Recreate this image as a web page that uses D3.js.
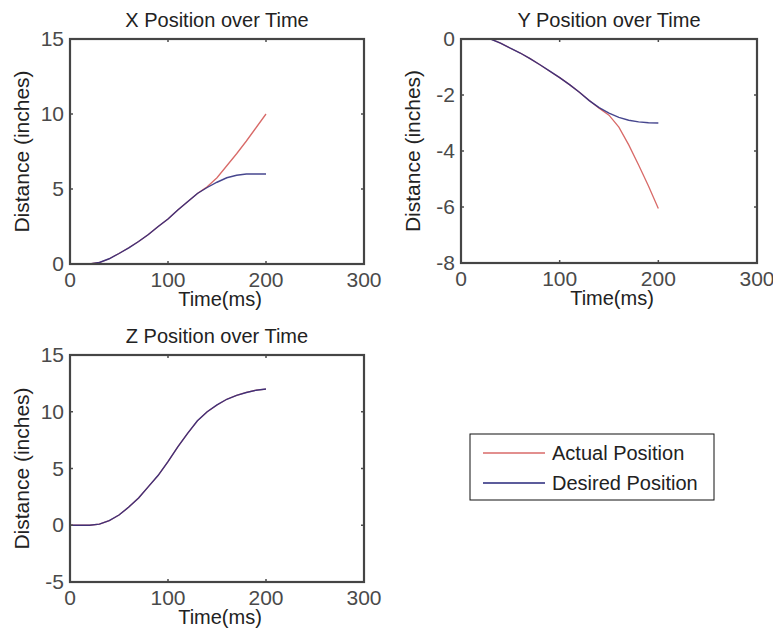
<!DOCTYPE html>
<html lang="en">
<head>
    <meta charset="UTF-8">
    <title>Position over Time</title>
    <style>
        body {
            margin: 0;
            background: #fff;
        }
        svg text {
            font-family: Arial, "Liberation Sans", sans-serif;
            fill: #222;
        }
        .tick-label {
            font-size: 21px;
            fill: #4a4a4a;
        }
        .frame {
            fill: none;
            stroke: #454545;
            stroke-width: 2.2px;
        }
        .tickmark {
            stroke: #4d4d4d;
            stroke-width: 1.5px;
        }
    </style>
</head>
<body>
    <div id="chart"></div>

    <script src="https://d3js.org/d3.v7.min.js"></script>
    <script>
        // time samples (ms)
        const timeXZ = [0, 10, 20, 30, 40, 50, 60, 70, 80, 90, 100, 110, 120, 130, 140, 150, 160, 170, 180, 190, 200];
        const timeY = [30, 40, 50, 60, 70, 80, 90, 100, 110, 120, 130, 140, 150, 160, 170, 180, 190, 200];

        // X position (inches)
        const xDesired = [0, 0, 0, 0.1, 0.35, 0.7, 1.08, 1.5, 1.97, 2.5, 3.0, 3.6, 4.15, 4.7, 5.1, 5.45, 5.75, 5.92, 6.0, 6.0, 6.0];
        const xActual = [0, 0, 0, 0.1, 0.35, 0.7, 1.08, 1.5, 1.97, 2.5, 3.0, 3.6, 4.15, 4.7, 5.15, 5.75, 6.55, 7.35, 8.2, 9.1, 10.0];

        // Y position (inches)
        const yDesired = [0, -0.15, -0.33, -0.5, -0.7, -0.92, -1.15, -1.38, -1.63, -1.9, -2.2, -2.45, -2.65, -2.8, -2.9, -2.96, -2.99, -3.0];
        const yActual = [0, -0.15, -0.33, -0.5, -0.7, -0.92, -1.15, -1.38, -1.63, -1.9, -2.2, -2.47, -2.72, -3.15, -3.78, -4.5, -5.25, -6.05];

        // Z position (inches)
        const zDesired = [0, 0, 0, 0.1, 0.4, 0.9, 1.6, 2.4, 3.4, 4.4, 5.6, 6.9, 8.1, 9.2, 10.0, 10.6, 11.1, 11.45, 11.7, 11.9, 12.0];
        const zActual = [0, 0, 0, 0.1, 0.4, 0.9, 1.6, 2.4, 3.4, 4.4, 5.6, 6.9, 8.1, 9.2, 10.0, 10.6, 11.1, 11.45, 11.7, 11.9, 12.0];

        const xTicks = [0, 100, 200, 300];
        const legendLabels = ['Actual Position', 'Desired Position'];
        const colors = { actual: '#d86a68', desired: '#26267a' };

        const width = 773;
        const height = 637;

        const svg = d3.select('#chart')
            .append('svg')
            .attr('width', width)
            .attr('height', height);

        const panels = [
            { title: 'X Position over Time', time: timeXZ, actual: xActual, desired: xDesired,
              yDomain: [0, 15], yTicks: [0, 5, 10, 15], box: { left: 70, right: 364, top: 39, bottom: 264 } },
            { title: 'Y Position over Time', time: timeY, actual: yActual, desired: yDesired,
              yDomain: [-8, 0], yTicks: [-8, -6, -4, -2, 0], box: { left: 461, right: 757, top: 39, bottom: 263 } },
            { title: 'Z Position over Time', time: timeXZ, actual: zActual, desired: zDesired,
              yDomain: [-5, 15], yTicks: [-5, 0, 5, 10, 15], box: { left: 70, right: 364, top: 355, bottom: 582 } }
        ];

        panels.forEach(p => drawPanel(p));

        function drawPanel(p) {
            const b = p.box;
            const x = d3.scaleLinear().domain([0, 300]).range([b.left, b.right]);
            const y = d3.scaleLinear().domain(p.yDomain).range([b.bottom, b.top]);
            const g = svg.append('g');

            g.append('defs').append('clipPath')
                .attr('id', 'clip-' + p.title[0])
                .append('rect')
                .attr('x', b.left).attr('y', b.top)
                .attr('width', b.right - b.left).attr('height', b.bottom - b.top);

            const line = series => d3.line()
                .x((d, i) => x(p.time[i]))
                .y(d => y(d))(series);

            const lines = g.append('g').attr('clip-path', `url(#clip-${p.title[0]})`);
            lines.append('path')
                .attr('d', line(p.actual))
                .attr('fill', 'none')
                .attr('stroke', colors.actual)
                .attr('stroke-width', 1.3);
            lines.append('path')
                .attr('d', line(p.desired))
                .attr('fill', 'none')
                .attr('stroke', colors.desired)
                .attr('stroke-width', 1.4)
                .attr('stroke-opacity', 0.85);

            // inward ticks on all four sides
            xTicks.forEach(t => {
                g.append('line').attr('class', 'tickmark')
                    .attr('x1', x(t)).attr('x2', x(t))
                    .attr('y1', b.bottom).attr('y2', b.bottom - 3);
                g.append('line').attr('class', 'tickmark')
                    .attr('x1', x(t)).attr('x2', x(t))
                    .attr('y1', b.top).attr('y2', b.top + 3);
                g.append('text').attr('class', 'tick-label')
                    .attr('x', x(t)).attr('y', b.bottom + 23)
                    .attr('text-anchor', 'middle')
                    .text(t);
            });
            p.yTicks.forEach(t => {
                g.append('line').attr('class', 'tickmark')
                    .attr('x1', b.left).attr('x2', b.left + 3)
                    .attr('y1', y(t)).attr('y2', y(t));
                g.append('line').attr('class', 'tickmark')
                    .attr('x1', b.right).attr('x2', b.right - 3)
                    .attr('y1', y(t)).attr('y2', y(t));
                g.append('text').attr('class', 'tick-label')
                    .attr('x', b.left - 6).attr('y', y(t) + 7)
                    .attr('text-anchor', 'end')
                    .text(t);
            });

            g.append('rect').attr('class', 'frame')
                .attr('x', b.left).attr('y', b.top)
                .attr('width', b.right - b.left).attr('height', b.bottom - b.top);

            const cx = (b.left + b.right) / 2;
            g.append('text')
                .attr('x', cx).attr('y', b.top - 12)
                .attr('text-anchor', 'middle')
                .style('font-size', '20px')
                .text(p.title);
            g.append('text')
                .attr('x', cx + 3).attr('y', b.bottom + 42)
                .attr('text-anchor', 'middle')
                .style('font-size', '20px')
                .text('Time(ms)');
            g.append('text')
                .attr('transform', `translate(${b.left - 41},${(b.top + b.bottom) / 2}) rotate(-90)`)
                .attr('text-anchor', 'middle')
                .style('font-size', '21px')
                .text('Distance (inches)');
        }

        // legend
        const legend = svg.append('g');
        legend.append('rect')
            .attr('x', 470).attr('y', 434)
            .attr('width', 244).attr('height', 66)
            .attr('fill', '#fff')
            .attr('stroke', '#111')
            .attr('stroke-width', 1);
        const legendY = d3.scalePoint().domain(legendLabels).range([453, 483]);
        [colors.actual, colors.desired].forEach((c, i) => {
            const yy = legendY(legendLabels[i]);
            legend.append('line')
                .attr('x1', 483).attr('x2', 545)
                .attr('y1', yy).attr('y2', yy)
                .attr('stroke', c).attr('stroke-width', 1.3);
            legend.append('text')
                .attr('x', 552).attr('y', yy + 7)
                .style('font-size', '20px')
                .text(legendLabels[i]);
        });
    </script>
</body>
</html>
